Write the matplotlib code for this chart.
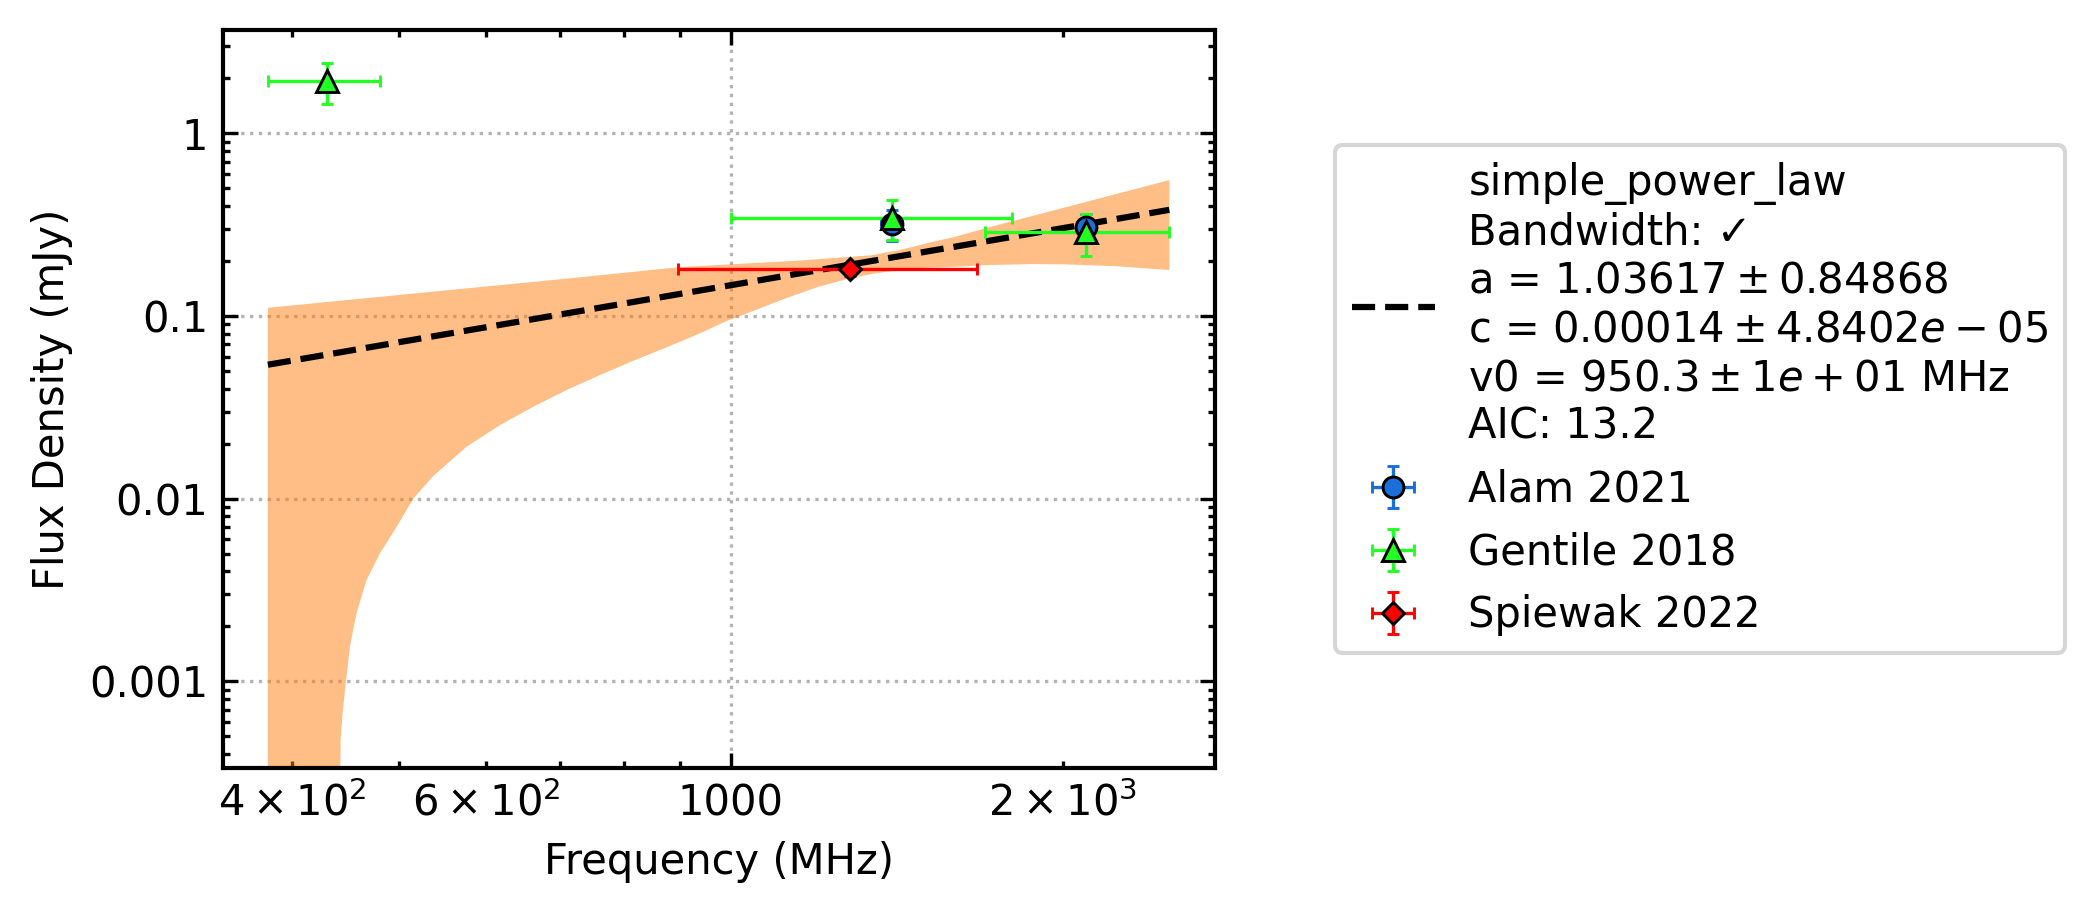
import numpy as np
import matplotlib
matplotlib.use("Agg")
import matplotlib.pyplot as plt
from matplotlib.ticker import FuncFormatter

plt.rcParams['font.family'] = ['DejaVu Sans']
plt.rcParams['font.size'] = 10

# ---------------- data ----------------
alam_freq = [1400, 2100]
alam_freq_err = [31, 31]
alam_flux = [0.319, 0.308]
alam_flux_err = [0.06, 0.052]

gentile_freq = [430, 1400, 2100]
gentile_freq_err = [50, 400, 400]
gentile_flux = [1.93, 0.345, 0.287]
gentile_flux_err = [0.49, 0.085, 0.073]

spiewak_freq = [1284]
spiewak_freq_err = [388]
spiewak_flux = [0.18]
spiewak_flux_err = [0.015]

# fit parameters (simple power law), c in Jy
fit_a = 1.03617
fit_c = 0.00014
fit_v0 = 950.3
fit_range = [380, 2500]

# fit uncertainty band edges
upper_freq = [380, 500, 700, 896, 1000, 1150, 1340, 1423, 1526, 1600, 1700,
              1884, 2223, 2500]
upper_flux = [0.111, 0.1305, 0.159, 0.185, 0.192, 0.201, 0.215, 0.23, 0.255,
              0.272, 0.302, 0.355, 0.461, 0.555]
lower_freq = [380, 441.5, 442.3, 444.2, 447.3, 451.1, 457.3, 467.0, 480.2,
              497.4, 514.8, 536.8, 575.5, 617.2, 661.6, 709.3, 760.5, 815.4,
              874.3, 937.4, 987.6, 1040, 1111, 1200, 1282, 1350, 1423, 1500,
              1598, 1700, 1884, 2000, 2223, 2500]
lower_flux = [1e-6, 1e-6, 4.77e-4, 6.68e-4, 1.00e-3, 1.55e-3, 2.36e-3,
              3.59e-3, 5.02e-3, 7.03e-3, 0.0100, 0.0133, 0.01926, 0.02531,
              0.03188, 0.03936, 0.04753, 0.05691, 0.06741, 0.08042, 0.0931,
              0.1048, 0.1224, 0.1445, 0.1608, 0.171, 0.1786, 0.1835, 0.1861,
              0.190, 0.1925, 0.192, 0.1878, 0.1787]

fit_label = ("simple_power_law\nBandwidth: \u2713\n"
             "a = $1.03617 \\pm 0.84868$\n"
             "c = $0.00014 \\pm 4.8402e-05$\n"
             "v0 = $950.3 \\pm 1e+01$ MHz\n"
             "AIC: 13.2")

# ---------------- figure ----------------
fig = plt.figure(figsize=(2094 / 300, 914 / 300), dpi=300)
ax = fig.add_axes([0.1065, 0.1597, 0.4737, 0.8075])
ax.set_xscale('log')
ax.set_yscale('log')

poly_f = list(upper_freq) + list(lower_freq[::-1])
poly_s = list(upper_flux) + list(lower_flux[::-1])
ax.fill(poly_f, poly_s, color='C1', alpha=0.5, linewidth=0, zorder=1)

fit_f = np.geomspace(fit_range[0], fit_range[1], 200)
fit_s = fit_c * (fit_f / fit_v0) ** fit_a * 1000.0
ax.plot(fit_f, fit_s, 'k--', lw=1.5, label=fit_label, zorder=3)

eb_kw = dict(linestyle='none', elinewidth=0.8, capsize=1.5, capthick=0.8,
             markeredgecolor='black', markeredgewidth=0.7, zorder=4)
ax.errorbar(alam_freq, alam_flux, xerr=alam_freq_err, yerr=alam_flux_err,
            marker='o', ms=5, color='#1a6fdb', mfc='#1a6fdb',
            label='Alam 2021', **eb_kw)
ax.errorbar(gentile_freq, gentile_flux, xerr=gentile_freq_err,
            yerr=gentile_flux_err, marker='^', ms=5.2, color='#22ff22',
            mfc='#22ff22', label='Gentile 2018', **eb_kw)
ax.errorbar(spiewak_freq, spiewak_flux, xerr=spiewak_freq_err,
            yerr=spiewak_flux_err, marker='D', ms=3.6, color='#ff0000',
            mfc='#ff0000', label='Spiewak 2022', **eb_kw)

ax.set_xlim(346, 2750)
ax.set_ylim(3.36e-4, 3.68)

fmt = FuncFormatter(lambda v, p: '{:g}'.format(v))
ax.yaxis.set_major_formatter(fmt)
ax.xaxis.set_major_formatter(fmt)

ax.tick_params(which='both', direction='in', top=True, right=True, width=0.8)
ax.tick_params(which='major', length=3.5)
ax.tick_params(which='minor', length=1.6)
for sp in ax.spines.values():
    sp.set_linewidth(1.0)

ax.grid(True, which='major', linestyle=':', color='0.7', linewidth=0.8)
ax.set_axisbelow(True)

ax.set_xlabel('Frequency (MHz)')
ax.set_ylabel('Flux Density (mJy)')

ax.legend(loc='center left', bbox_to_anchor=(1.121, 0.5), borderaxespad=0,
          fontsize=10)

fig.savefig('out.png', dpi=300)
